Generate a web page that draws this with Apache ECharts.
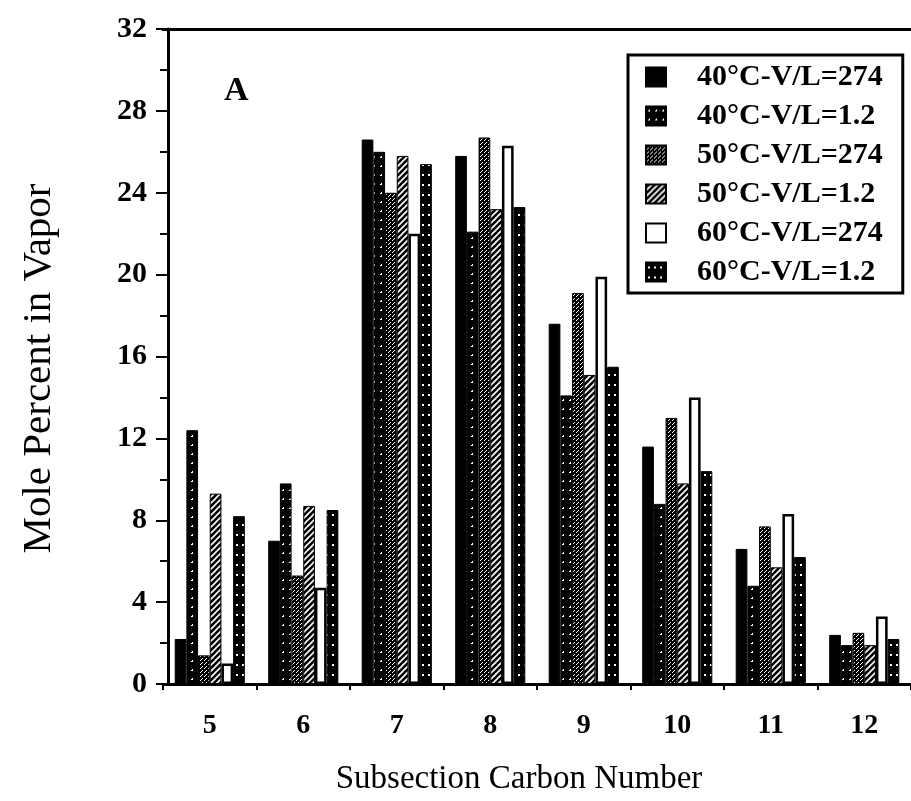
<!DOCTYPE html>
<html>
<head>
<meta charset="utf-8">
<script src="https://cdn.jsdelivr.net/npm/echarts@6/dist/echarts.min.js"></script>
<style>
  html, body { margin: 0; padding: 0; background: #fff; }
  #chart { width: 911px; height: 801px; }
</style>
</head>
<body>
<div id="chart"></div>
<script>
// Carbon number groups and mole percent in vapor
const categories = ["5", "6", "7", "8", "9", "10", "11", "12"];
const seriesNames = ["40°C-V/L=274", "40°C-V/L=1.2", "50°C-V/L=274", "50°C-V/L=1.2", "60°C-V/L=274", "60°C-V/L=1.2"];
const v40_274 = [2.2, 7.0, 26.6, 25.8, 17.6, 11.6, 6.6, 2.4];
const v40_12  = [12.4, 9.8, 26.0, 22.1, 14.1, 8.8, 4.8, 1.9];
const v50_274 = [1.4, 5.3, 24.0, 26.7, 19.1, 13.0, 7.7, 2.5];
const v50_12  = [9.3, 8.7, 25.8, 23.2, 15.1, 9.8, 5.7, 1.9];
const v60_274 = [1.0, 4.7, 22.0, 26.3, 19.9, 14.0, 8.3, 3.3];
const v60_12  = [8.2, 8.5, 25.4, 23.3, 15.5, 10.4, 6.2, 2.2];
const yTicks = { min: 0, max: 32, interval: 4 };

// small canvas patterns imitating the printed fills
const makePattern = (w, h, draw) => {
    const c = document.createElement("canvas");
    c.width = w; c.height = h;
    const ctx = c.getContext("2d");
    ctx.fillStyle = "#000";
    ctx.fillRect(0, 0, w, h);
    ctx.fillStyle = "#fff";
    ctx.strokeStyle = "#fff";
    draw(ctx);
    return { image: c, repeat: "repeat" };
};

const fills = [
    "#000",
    makePattern(7, 9, ctx => { ctx.fillRect(2, 4, 2, 1); ctx.fillRect(3, 3, 1, 1); }),
    makePattern(4, 4, ctx => { ctx.fillRect(0, 0, 1, 1); ctx.fillRect(2, 2, 1, 1); ctx.fillRect(1, 3, 1, 1); }),
    makePattern(6, 6, ctx => {
        ctx.lineWidth = 1.6;
        ctx.beginPath(); ctx.moveTo(0, 6); ctx.lineTo(6, 0); ctx.stroke();
        ctx.beginPath(); ctx.moveTo(-1, 1); ctx.lineTo(1, -1); ctx.stroke();
        ctx.beginPath(); ctx.moveTo(5, 7); ctx.lineTo(7, 5); ctx.stroke();
    }),
    "#fff",
    makePattern(6, 10, ctx => { ctx.fillRect(2, 4, 2, 2); })
];

const values = [v40_274, v40_12, v50_274, v50_12, v60_274, v60_12];
const serif = "Liberation Serif";

const chart = echarts.init(document.getElementById("chart"));
chart.setOption({
    backgroundColor: "#fff",
    animation: false,
    grid: { left: 163, right: -6, top: 29, bottom: 117 },
    legend: {
        orient: "vertical",
        left: 628,
        top: 55,
        itemWidth: 20,
        itemHeight: 19,
        itemGap: 9,
        padding: [7, 20, 6, 17],
        borderColor: "#000",
        borderWidth: 3,
        icon: "rect",
        data: seriesNames,
        textStyle: {
            fontFamily: serif,
            fontSize: 30,
            fontWeight: "bold",
            color: "#000",
            lineHeight: 30,
            padding: [0, 0, 0, 26]
        }
    },
    xAxis: [{
        type: "category",
        data: categories,
        name: "Subsection Carbon Number",
        nameLocation: "middle",
        nameGap: 79,
        nameTextStyle: { fontFamily: serif, fontSize: 33, color: "#000", padding: [0, 36, 0, 0] },
        axisLine: { lineStyle: { color: "#000", width: 3 } },
        axisTick: { show: true, length: 6, lineStyle: { color: "#000", width: 2 } },
        axisLabel: { fontFamily: serif, fontSize: 28, fontWeight: "bold", color: "#000", margin: 28 }
    }, {
        type: "category",
        data: categories,
        position: "top",
        axisLine: { lineStyle: { color: "#000", width: 3 } },
        axisTick: { show: false },
        axisLabel: { show: false }
    }],
    yAxis: {
        type: "value",
        min: yTicks.min,
        max: yTicks.max,
        interval: yTicks.interval,
        offset: -5,
        name: "Mole Percent in Vapor",
        nameLocation: "middle",
        nameGap: 108,
        nameTextStyle: { fontFamily: serif, fontSize: 41, color: "#000", padding: [0, 24, 0, 0] },
        axisLine: { show: true, lineStyle: { color: "#000", width: 3 } },
        axisTick: { show: true, length: 12, lineStyle: { color: "#000", width: 2 } },
        minorTick: { show: true, splitNumber: 2, length: 8, lineStyle: { color: "#000", width: 2 } },
        splitLine: { show: false },
        axisLabel: {
            fontFamily: serif, fontSize: 30, fontWeight: "bold", color: "#000",
            margin: 21, padding: [0, 0, 20, 0]
        }
    },
    graphic: [{
        type: "text",
        left: 224,
        top: 74,
        style: { text: "A", font: "bold 34px 'Liberation Serif'", fill: "#000" }
    }],
    series: seriesNames.map((name, i) => ({
        name,
        type: "bar",
        data: values[i],
        barGap: "0%",
        barCategoryGap: "25%",
        itemStyle: {
            color: fills[i],
            borderColor: "#000",
            borderWidth: i === 4 ? 2.5 : 1
        }
    }))
});
</script>
</body>
</html>
